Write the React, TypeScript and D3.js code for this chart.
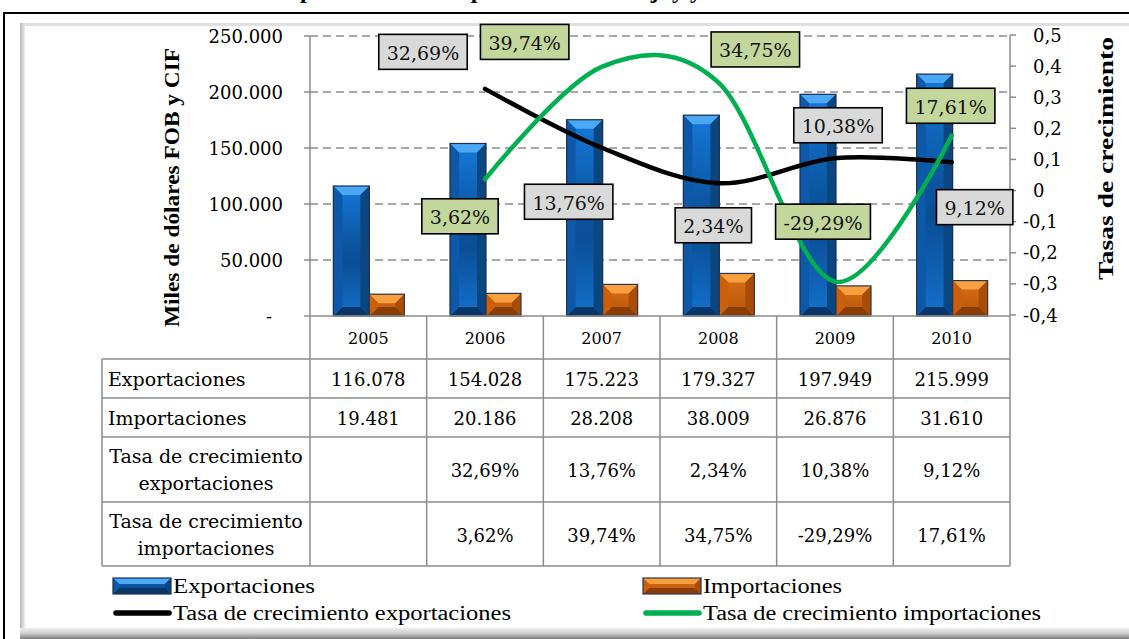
import React from 'react';
import * as d3 from 'd3';

// ---------- data ----------
const years = ['2005', '2006', '2007', '2008', '2009', '2010'];
const exportaciones = [116078, 154028, 175223, 179327, 197949, 215999];
const importaciones = [19481, 20186, 28208, 38009, 26876, 31610];
const tasaExp: (number | null)[] = [null, 0.3269, 0.1376, 0.0234, 0.1038, 0.0912];
const tasaImp: (number | null)[] = [null, 0.0362, 0.3974, 0.3475, -0.2929, 0.1761];
const leftTicks = [0, 50000, 100000, 150000, 200000, 250000];
const rightTicks = [-0.4, -0.3, -0.2, -0.1, 0, 0.1, 0.2, 0.3, 0.4, 0.5];
const seriesNames = [
  'Exportaciones',
  'Importaciones',
  'Tasa de crecimiento exportaciones',
  'Tasa de crecimiento importaciones',
];
const titleText = 'Exportaciones e Importaciones de Jujuy y tasas de crecimiento';
const leftTitle = 'Miles de dólares FOB y CIF';
const rightTitle = 'Tasas de crecimiento';

// label box offsets (layout, px) relative to each point
const expLabelOffsets: ([number, number] | null)[] = [null, [-62, -37], [-33, 54], [-5, 42], [3, -33], [23, 45]];
const impLabelOffsets: ([number, number] | null)[] = [null, [-25, 37], [-77, -25], [37, -33], [-12, -60], [-1, -30]];

// ---------- formatting ----------
const loc = d3.formatLocale({ decimal: ',', thousands: '.', grouping: [3], currency: ['$', ''], minus: '-' });
const fmtInt = loc.format(',d');
const fmtPct = loc.format('.2%');
const fmtR = (v: number) => (Math.abs(v) < 1e-9 ? '0' : loc.format('.1f')(v));

const W = 1129;
const H = 639;
const L = 310, R = 1010, T = 36, B = 316;

const SERIF = '"DejaVu Serif", serif';
const LSERIF = '"Liberation Serif", serif';

let measureCtx: CanvasRenderingContext2D | null = null;
function measure(text: string, font: string) {
  if (!measureCtx) measureCtx = document.createElement('canvas').getContext('2d');
  if (!measureCtx) return text.length * 11;
  measureCtx.font = font;
  return measureCtx.measureText(text).width;
}

type Pal = { top: string; left: string; right: string; bottom: string; face: string; stroke: string };
const bluePal: Pal = { top: '#4aa8f5', left: '#0d58a8', right: '#0a467f', bottom: '#083668', face: 'url(#blueFace)', stroke: '#1b2f4a' };
const orangePal: Pal = { top: '#f8a040', left: '#cc600a', right: '#a84c06', bottom: '#8a3e05', face: 'url(#orangeFace)', stroke: '#2a3550' };

function BevelRect({ x, y, w, h, pal, bevel = 9 }: { x: number; y: number; w: number; h: number; pal: Pal; bevel?: number }) {
  const b = Math.min(bevel, w / 2, h / 2);
  const pts = (arr: number[][]) => arr.map((p) => p.join(',')).join(' ');
  return (
    <g>
      <rect x={x} y={y} width={w} height={h} fill={pal.face} />
      <polygon points={pts([[x, y], [x + w, y], [x + w - b, y + b], [x + b, y + b]])} fill={pal.top} />
      <polygon points={pts([[x, y + h], [x + w, y + h], [x + w - b, y + h - b], [x + b, y + h - b]])} fill={pal.bottom} />
      <polygon points={pts([[x, y], [x + b, y + b], [x + b, y + h - b], [x, y + h]])} fill={pal.left} />
      <polygon points={pts([[x + w, y], [x + w - b, y + b], [x + w - b, y + h - b], [x + w, y + h]])} fill={pal.right} />
      <rect x={x} y={y} width={w} height={h} fill="none" stroke={pal.stroke} strokeWidth={1.2} />
    </g>
  );
}

export default function App() {
  const x = d3.scaleBand<string>().domain(years).range([L, R]).padding(0);
  const yL = d3.scaleLinear().domain([0, 250000]).range([B, T]);
  const yR = d3.scaleLinear().domain([-0.4, 0.5]).range([B - 1, T - 1]);
  const cx = (i: number) => (x(years[i]) as number) + x.bandwidth() / 2;

  const lineGen = d3
    .line<[number, number]>()
    .x((d) => d[0])
    .y((d) => d[1])
    .curve(d3.curveCardinal.tension(0));

  const expPts: [number, number][] = [];
  tasaExp.forEach((v, i) => { if (v !== null) expPts.push([cx(i), yR(v)]); });
  const impPts: [number, number][] = [];
  tasaImp.forEach((v, i) => { if (v !== null) impPts.push([cx(i), yR(v)]); });

  const labelFont = `19px ${SERIF}`;
  const labels: { text: string; cx: number; cy: number; fill: string }[] = [];
  tasaExp.forEach((v, i) => {
    const o = expLabelOffsets[i];
    if (v !== null && o) labels.push({ text: fmtPct(v), cx: cx(i) + o[0], cy: yR(v) + o[1], fill: '#d9d9d9' });
  });
  tasaImp.forEach((v, i) => {
    const o = impLabelOffsets[i];
    if (v !== null && o) labels.push({ text: fmtPct(v), cx: cx(i) + o[0], cy: yR(v) + o[1], fill: '#c3d69b' });
  });

  // table geometry
  const rowsY = [B, 359, 398, 437, 502, 566];
  const tableLeft = 102;
  const gridColor = '#8c8c8c';

  const rowLabels: string[][] = [
    [seriesNames[0]],
    [seriesNames[1]],
    ['Tasa de crecimiento', 'exportaciones'],
    ['Tasa de crecimiento', 'importaciones'],
  ];
  const rowValues: string[][] = [
    exportaciones.map(fmtInt),
    importaciones.map(fmtInt),
    tasaExp.map((v) => (v === null ? '' : fmtPct(v))),
    tasaImp.map((v) => (v === null ? '' : fmtPct(v))),
  ];

  const barW = 36;

  return (
    <svg width={W} height={H} style={{ position: 'absolute', left: 0, top: 0, background: '#fff' }}>
      <defs>
        <linearGradient id="blueFace" x1="0" y1="0" x2="0" y2="1">
          <stop offset="0%" stopColor="#1678da" />
          <stop offset="45%" stopColor="#0b559f" />
          <stop offset="60%" stopColor="#0a4e96" />
          <stop offset="100%" stopColor="#1470cc" />
        </linearGradient>
        <linearGradient id="orangeFace" x1="0" y1="0" x2="0" y2="1">
          <stop offset="0%" stopColor="#dc6e14" />
          <stop offset="100%" stopColor="#b4560c" />
        </linearGradient>
        <linearGradient id="leftEdge" x1="0" y1="0" x2="1" y2="0">
          <stop offset="0%" stopColor="#b8b8b8" />
          <stop offset="100%" stopColor="#ececec" />
        </linearGradient>
        <linearGradient id="bottomEdge" x1="0" y1="0" x2="0" y2="1">
          <stop offset="0%" stopColor="#eeeeee" />
          <stop offset="45%" stopColor="#d2d2d2" />
          <stop offset="100%" stopColor="#7e7e7e" />
        </linearGradient>
      </defs>

      <rect x={0} y={0} width={W} height={H} fill="#fff" />

      {/* title, clipped by the top edge as in the source image */}
      <text x={272} y={-2} fontFamily={LSERIF} fontWeight="bold" fontSize={24} fill="#000">
        {titleText}
      </text>

      {/* frames */}
      <path d={`M4,${H} V13 H${W}`} fill="none" stroke="#000" strokeWidth={2} />
      <rect x={20} y={23} width={W - 20} height={3} fill="#e0e0e0" />
      <rect x={20} y={23} width={5} height={608} fill="url(#leftEdge)" />
      <rect x={20} y={628} width={W - 20} height={11} fill="url(#bottomEdge)" />

      {/* gridlines */}
      {leftTicks.filter((t) => t > 0).map((t) => (
        <line key={'g' + t} x1={L} x2={R} y1={yL(t)} y2={yL(t)} stroke={gridColor} strokeWidth={1.5} strokeDasharray="8,5" />
      ))}

      {/* left axis */}
      <line x1={L} x2={L} y1={T} y2={B} stroke={gridColor} strokeWidth={1.5} />
      {leftTicks.map((t) => (
        <g key={'lt' + t}>
          <line x1={L - 6} x2={L} y1={yL(t)} y2={yL(t)} stroke={gridColor} strokeWidth={1.5} />
          <text
            x={t === 0 ? 272 : 283}
            y={yL(t)}
            textAnchor="end"
            dominantBaseline="central"
            fontFamily={SERIF}
            fontSize={18}
            fill="#000"
          >
            {t === 0 ? '-' : fmtInt(t)}
          </text>
        </g>
      ))}

      {/* right axis */}
      <line x1={R} x2={R} y1={T - 1} y2={B} stroke={gridColor} strokeWidth={1.5} />
      {rightTicks.map((t) => (
        <g key={'rt' + t}>
          <line x1={R} x2={R + 6} y1={yR(t)} y2={yR(t)} stroke={gridColor} strokeWidth={1.5} />
          <text
            x={t < -1e-9 ? 1023 : 1033}
            y={yR(t)}
            dominantBaseline="central"
            fontFamily={SERIF}
            fontSize={18}
            fill="#000"
          >
            {fmtR(t)}
          </text>
        </g>
      ))}

      {/* axis titles */}
      <text
        transform={`translate(172,${(48 + 327) / 2}) rotate(-90)`}
        textAnchor="middle"
        dominantBaseline="central"
        fontFamily={LSERIF}
        fontWeight="bold"
        fontSize={21}
        textLength={279}
        lengthAdjust="spacingAndGlyphs"
        fill="#000"
      >
        {leftTitle}
      </text>
      <text
        transform={`translate(1106,${(37 + 280) / 2}) rotate(-90)`}
        textAnchor="middle"
        dominantBaseline="central"
        fontFamily={LSERIF}
        fontWeight="bold"
        fontSize={21}
        textLength={243}
        lengthAdjust="spacingAndGlyphs"
        fill="#000"
      >
        {rightTitle}
      </text>

      {/* bars */}
      {years.map((yr, i) => {
        const c = cx(i);
        const ye = yL(exportaciones[i]);
        const yi = yL(importaciones[i]);
        return (
          <g key={'b' + yr}>
            <BevelRect x={c - barW + 1} y={ye} w={barW} h={B - ye} pal={bluePal} />
            <BevelRect x={c + 1} y={yi} w={barW - 1} h={B - yi} pal={orangePal} />
          </g>
        );
      })}

      {/* baseline */}
      <line x1={L} x2={R} y1={B} y2={B} stroke={gridColor} strokeWidth={1.5} />

      {/* lines */}
      <path d={lineGen(expPts) || ''} fill="none" stroke="#000" strokeWidth={4.5} strokeLinecap="round" />
      <path d={lineGen(impPts) || ''} fill="none" stroke="#00b050" strokeWidth={4.5} strokeLinecap="round" />

      {/* data labels */}
      {labels.map((lb, k) => {
        const tw = measure(lb.text, labelFont);
        const bw = tw + 16;
        const bh = 35;
        return (
          <g key={'lb' + k}>
            <rect x={lb.cx - bw / 2} y={lb.cy - bh / 2} width={bw} height={bh} fill={lb.fill} stroke="#000" strokeWidth={1.6} />
            <text x={lb.cx} y={lb.cy + 1} textAnchor="middle" dominantBaseline="central" fontFamily={SERIF} fontSize={19} fill="#111">
              {lb.text}
            </text>
          </g>
        );
      })}

      {/* data table */}
      <g stroke={gridColor} strokeWidth={1.5}>
        {rowsY.slice(1).map((ry) => (
          <line key={'hr' + ry} x1={tableLeft} x2={R} y1={ry} y2={ry} />
        ))}
        <line x1={tableLeft} x2={tableLeft} y1={rowsY[1]} y2={rowsY[5]} />
        {years.map((yr) => (
          <line key={'vl' + yr} x1={x(yr) as number} x2={x(yr) as number} y1={B} y2={rowsY[5]} />
        ))}
        <line x1={R} x2={R} y1={B} y2={rowsY[5]} />
      </g>
      {years.map((yr, i) => (
        <text key={'yh' + yr} x={cx(i)} y={(rowsY[0] + rowsY[1]) / 2 + 1} textAnchor="middle" dominantBaseline="central" fontFamily={SERIF} fontSize={16} fill="#000">
          {yr}
        </text>
      ))}
      {rowLabels.map((lines, r) => {
        const midY = (rowsY[r + 1] + rowsY[r + 2]) / 2;
        if (lines.length === 1) {
          return (
            <text key={'rl' + r} x={108} y={midY} dominantBaseline="central" fontFamily={SERIF} fontSize={19} fill="#000">
              {lines[0]}
            </text>
          );
        }
        return (
          <g key={'rl' + r}>
            {lines.map((ln, k) => (
              <text key={k} x={(tableLeft + L) / 2} y={midY + (k === 0 ? -13.5 : 13.5)} textAnchor="middle" dominantBaseline="central" fontFamily={SERIF} fontSize={19} fill="#000">
                {ln}
              </text>
            ))}
          </g>
        );
      })}
      {rowValues.map((vals, r) => {
        const midY = (rowsY[r + 1] + rowsY[r + 2]) / 2;
        return vals.map((v, i) =>
          v ? (
            <text key={'rv' + r + '-' + i} x={cx(i)} y={midY + 1} textAnchor="middle" dominantBaseline="central" fontFamily={SERIF} fontSize={18} fill="#000">
              {v}
            </text>
          ) : null
        );
      })}

      {/* legend */}
      <BevelRect x={113} y={578} w={58} h={16} pal={bluePal} bevel={6} />
      <text x={173} y={586} dominantBaseline="central" fontFamily={LSERIF} fontSize={20} textLength={142} lengthAdjust="spacingAndGlyphs" fill="#000">
        {seriesNames[0]}
      </text>
      <BevelRect x={643} y={578} w={58} h={16} pal={orangePal} bevel={6} />
      <text x={703} y={586} dominantBaseline="central" fontFamily={LSERIF} fontSize={20} textLength={139} lengthAdjust="spacingAndGlyphs" fill="#000">
        {seriesNames[1]}
      </text>
      <line x1={116} x2={169} y1={613} y2={613} stroke="#000" strokeWidth={5.5} strokeLinecap="round" />
      <text x={173} y={613} dominantBaseline="central" fontFamily={LSERIF} fontSize={20} textLength={338} lengthAdjust="spacingAndGlyphs" fill="#000">
        {seriesNames[2]}
      </text>
      <line x1={646} x2={699} y1={613} y2={613} stroke="#00b050" strokeWidth={5.5} strokeLinecap="round" />
      <text x={703} y={613} dominantBaseline="central" fontFamily={LSERIF} fontSize={20} textLength={338} lengthAdjust="spacingAndGlyphs" fill="#000">
        {seriesNames[3]}
      </text>
    </svg>
  );
}
